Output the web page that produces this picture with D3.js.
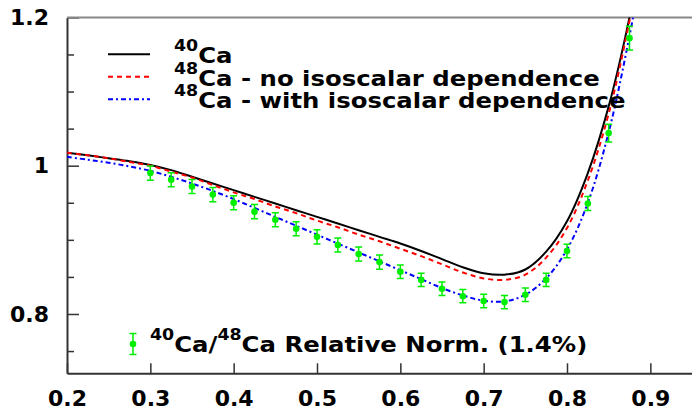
<html>
  <head>
    <meta charset="utf-8" />
    <title>Ca ratio</title>
    <script src="https://cdn.jsdelivr.net/npm/d3@7"></script>
  </head>
  <style>
    html,
    body {
      margin: 0;
      padding: 0;
      background: #fff;
    }
    text {
      font-family: "DejaVu Sans", sans-serif;
      font-weight: 700;
    }
  </style>
  <body>
    <svg width="692" height="411" id="mainsvg"></svg>
    <script>
      // curve samples (x, then each model)
      const xs = [0.2, 0.225, 0.25, 0.275, 0.3, 0.325, 0.35, 0.375, 0.4, 0.425, 0.45, 0.475, 0.5,
        0.525, 0.55, 0.575, 0.6, 0.625, 0.65, 0.675, 0.7, 0.725, 0.75, 0.775, 0.8, 0.825, 0.85, 0.875, 0.9];
      const ca40 = [1.0175, 1.014, 1.010, 1.006, 1.001, 0.994, 0.985, 0.976, 0.967, 0.958, 0.949, 0.940, 0.931,
        0.922, 0.913, 0.904, 0.895, 0.885, 0.874, 0.863, 0.855, 0.853, 0.860, 0.884, 0.925, 0.990, 1.080, 1.200, 1.350];
      const ca48NoIso = [1.0175, 1.014, 1.010, 1.005, 1.000, 0.992, 0.984, 0.974, 0.964, 0.955, 0.945, 0.936, 0.926,
        0.917, 0.907, 0.898, 0.888, 0.878, 0.867, 0.856, 0.848, 0.846, 0.853, 0.876, 0.916, 0.980, 1.070, 1.195, 1.340];
      const ca48Iso = [1.012, 1.008, 1.004, 0.999, 0.993, 0.985, 0.976, 0.966, 0.955, 0.943, 0.931, 0.919, 0.907,
        0.895, 0.883, 0.871, 0.859, 0.847, 0.835, 0.825, 0.818, 0.817, 0.826, 0.848, 0.887, 0.950, 1.045, 1.175, 1.330];

      // data points
      const dataX = [0.3, 0.325, 0.35, 0.375, 0.4, 0.425, 0.45, 0.475, 0.5, 0.525, 0.55, 0.575,
        0.6, 0.625, 0.65, 0.675, 0.7, 0.725, 0.75, 0.775, 0.8, 0.825, 0.85, 0.875];
      const dataY = [0.990, 0.981, 0.972, 0.961, 0.950, 0.938, 0.927, 0.915, 0.904, 0.893, 0.881, 0.870,
        0.857, 0.846, 0.834, 0.824, 0.8175, 0.816, 0.826, 0.846, 0.885, 0.949, 1.044, 1.172];
      const dataErr = [0.0095, 0.0095, 0.0095, 0.0095, 0.0095, 0.0095, 0.0095, 0.0095, 0.0095, 0.0095, 0.0095, 0.0095,
        0.009, 0.009, 0.009, 0.009, 0.009, 0.009, 0.009, 0.009, 0.009, 0.0095, 0.012, 0.016];

      const xTicks = [0.2, 0.3, 0.4, 0.5, 0.6, 0.7, 0.8, 0.9];
      const yTicks = [0.8, 1.0, 1.2];
      const yMinor = [0.75, 0.85, 0.9, 0.95, 1.05, 1.1, 1.15];

      const svg = d3.select("svg");
      const pLeft = 67, pRight = 692, pTop = 17.4, pBottom = 373.3;

      const xScale = d3.scaleLinear().domain([0.2, 0.95]).range([pLeft, pRight]);
      const yScale = d3.scaleLinear().domain([0.72, 1.2]).range([pBottom, pTop]);

      svg.append("clipPath").attr("id", "plotclip")
        .append("rect")
        .attr("x", pLeft).attr("y", pTop)
        .attr("width", pRight - pLeft).attr("height", pBottom - pTop);

      // axes
      const fmt = (d) => String(+d.toFixed(2));
      svg.append("g")
        .attr("transform", `translate(${pLeft},0)`)
        .call(d3.axisLeft(yScale).tickValues(yTicks).tickFormat(fmt)
          .tickSizeInner(-12).tickSizeOuter(0).tickPadding(18));
      const yMinorAxis = svg.append("g")
        .attr("transform", `translate(${pLeft},0)`)
        .call(d3.axisLeft(yScale).tickValues(yMinor).tickFormat("")
          .tickSizeInner(-7).tickSizeOuter(0));
      yMinorAxis.select(".domain").remove();

      svg.append("g")
        .attr("transform", `translate(0,${pBottom})`)
        .call(d3.axisBottom(xScale).tickValues(xTicks).tickFormat(fmt)
          .tickSizeInner(-10).tickSizeOuter(0).tickPadding(17));

      svg.selectAll(".domain").attr("stroke", "#333").attr("stroke-width", 2);
      svg.selectAll(".tick line").attr("stroke", "#333").attr("stroke-width", 1.5);
      svg.selectAll(".tick text")
        .attr("fill", "#000")
        .style("font-size", "22px")
        .style("font-family", "'DejaVu Sans', sans-serif")
        .style("font-weight", 700);

      svg.append("line")
        .attr("x1", pLeft).attr("x2", pRight)
        .attr("y1", pTop).attr("y2", pTop)
        .attr("stroke", "#888").attr("stroke-width", 2);

      // curves
      const line = d3.line()
        .x((d) => xScale(d[0]))
        .y((d) => yScale(d[1]))
        .curve(d3.curveCatmullRom);

      const series = [
        { vals: ca40, color: "#000", dash: null },
        { vals: ca48NoIso, color: "#ff0000", dash: "5,4" },
        { vals: ca48Iso, color: "#0000ff", dash: "5,3,2,3" },
      ];

      const plot = svg.append("g").attr("clip-path", "url(#plotclip)");
      plot.selectAll(".curve")
        .data(series)
        .join("path")
        .attr("class", "curve")
        .attr("d", (s) => line(xs.map((x, i) => [x, s.vals[i]])))
        .attr("fill", "none")
        .attr("stroke", (s) => s.color)
        .attr("stroke-width", 2)
        .attr("stroke-dasharray", (s) => s.dash);

      // data points with error bars
      const pts = dataX.map((x, i) => ({ x: x, y: dataY[i], e: dataErr[i] }));
      const green = "#00ee00";
      const pg = plot.selectAll(".pt").data(pts).join("g").attr("class", "pt");
      pg.append("line")
        .attr("x1", (d) => xScale(d.x)).attr("x2", (d) => xScale(d.x))
        .attr("y1", (d) => yScale(d.y + d.e)).attr("y2", (d) => yScale(d.y - d.e))
        .attr("stroke", green).attr("stroke-width", 1.5);
      [1, -1].forEach((sg) => {
        pg.append("line")
          .attr("x1", (d) => xScale(d.x) - 3.5).attr("x2", (d) => xScale(d.x) + 3.5)
          .attr("y1", (d) => yScale(d.y + sg * d.e)).attr("y2", (d) => yScale(d.y + sg * d.e))
          .attr("stroke", green).attr("stroke-width", 1.5);
      });
      pg.append("circle")
        .attr("cx", (d) => xScale(d.x)).attr("cy", (d) => yScale(d.y))
        .attr("r", 3.3).attr("fill", green);

      // legend (text slightly stretched horizontally like the original)
      const stretch = 1.16;
      const legendItems = [
        { sup: "40", txt: "Ca", s: series[0] },
        { sup: "48", txt: "Ca - no isoscalar dependence", s: series[1] },
        { sup: "48", txt: "Ca - with isoscalar dependence", s: series[2] },
      ];
      const lg = svg.append("g");
      legendItems.forEach((it, i) => {
        const by = 63.3 + i * 22.5;
        lg.append("line")
          .attr("x1", 108).attr("x2", 150)
          .attr("y1", by - 9).attr("y2", by - 9)
          .attr("stroke", it.s.color).attr("stroke-width", 2)
          .attr("stroke-dasharray", it.s.dash);
        const t = lg.append("text")
          .attr("transform", `translate(174,${by}) scale(${stretch},1)`)
          .attr("fill", "#000");
        t.append("tspan").attr("dy", -12).style("font-size", "15px").text(it.sup);
        t.append("tspan").attr("dy", 12).style("font-size", "21px").text(it.txt);
      });

      // bottom legend for data
      const mx = 133, my = 344;
      lg.append("line").attr("x1", mx).attr("x2", mx).attr("y1", my - 10.5).attr("y2", my + 10.5)
        .attr("stroke", green).attr("stroke-width", 1.5);
      [-10.5, 10.5].forEach((o) => {
        lg.append("line").attr("x1", mx - 3.5).attr("x2", mx + 3.5).attr("y1", my + o).attr("y2", my + o)
          .attr("stroke", green).attr("stroke-width", 1.5);
      });
      lg.append("circle").attr("cx", mx).attr("cy", my).attr("r", 3.3).attr("fill", green);
      const bt = lg.append("text")
        .attr("transform", `translate(150,351.7) scale(${stretch},1)`)
        .attr("fill", "#000");
      bt.append("tspan").attr("dy", -12).style("font-size", "15px").text("40");
      bt.append("tspan").attr("dy", 12).style("font-size", "21px").text("Ca/");
      bt.append("tspan").attr("dy", -12).style("font-size", "15px").text("48");
      bt.append("tspan").attr("dy", 12).style("font-size", "21px").text("Ca Relative Norm. (1.4%)");
    </script>
  </body>
</html>
